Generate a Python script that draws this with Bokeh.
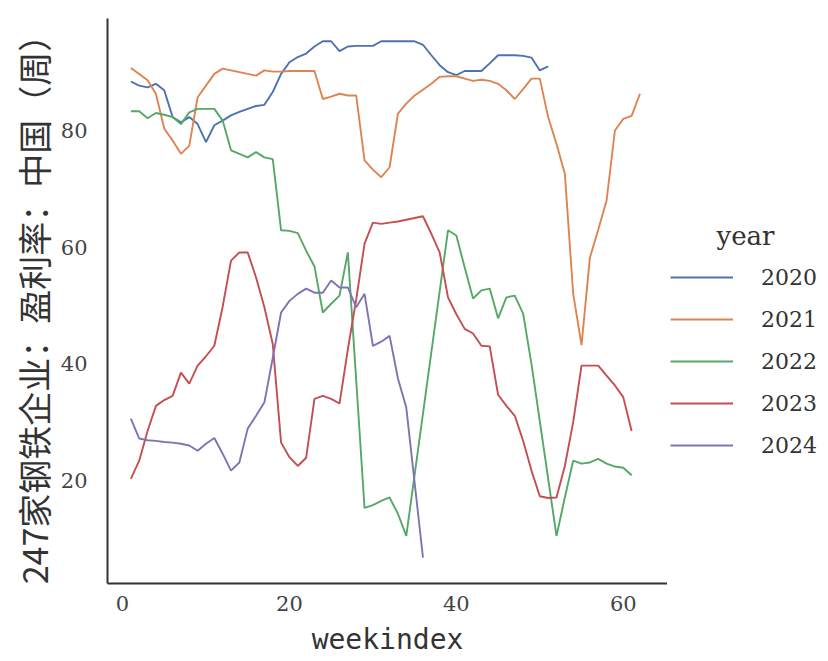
from bokeh.plotting import figure
from bokeh.layouts import row
from bokeh.models import Range1d, FixedTicker, Legend, LegendItem, Label
from bokeh.embed import file_html
from bokeh.resources import INLINE

# ---- data ----
years = ["2020", "2021", "2022", "2023", "2024"]

weeks_2020 = list(range(1, 52))
vals_2020 = [88.4, 87.7, 87.4, 88.0, 86.9, 82.3, 81.4, 82.3, 81.1, 78.0,
             80.9, 81.7, 82.6, 83.2, 83.7, 84.2, 84.4, 86.6, 89.7, 91.7,
             92.6, 93.2, 94.4, 95.3, 95.3, 93.6, 94.4, 94.5, 94.5, 94.5,
             95.3, 95.3, 95.3, 95.3, 95.3, 94.7, 92.9, 91.2, 90.0, 89.5,
             90.2, 90.2, 90.2, 91.5, 92.9, 92.9, 92.9, 92.8, 92.5, 90.3,
             91.0]

weeks_2021 = list(range(1, 63))
vals_2021 = [90.7, 89.7, 88.6, 86.3, 80.3, 78.3, 76.0, 77.4, 85.7, 87.7,
             89.7, 90.6, 90.3, 90.0, 89.7, 89.4, 90.3, 90.1, 90.1, 90.2,
             90.2, 90.2, 90.2, 85.4, 85.8, 86.3, 86.0, 86.0, 74.9, 73.3,
             72.0, 73.7, 82.9, 84.6, 86.0, 87.0, 88.0, 89.2, 89.3, 89.3,
             88.9, 88.5, 88.7, 88.5, 88.0, 86.9, 85.4, 87.1, 88.9, 88.9,
             82.3, 77.7, 72.6, 52.0, 43.2, 58.2, 63.0, 68.0, 80.0, 82.0,
             82.5, 86.3]

weeks_2022 = [1, 2, 3, 4, 5, 6, 7, 8, 9, 10, 11, 12, 13, 14, 15, 16, 17, 18,
              19, 20, 21, 22, 23, 24, 25, 26, 27, 29, 30, 31, 32, 33, 34,
              39, 40, 41, 42, 43, 44, 45, 46, 47, 48, 49, 52, 53, 54, 55,
              56, 57, 58, 59, 60, 61]
vals_2022 = [83.3, 83.3, 82.1, 83.0, 82.7, 82.3, 81.1, 83.1, 83.7, 83.7,
             83.7, 81.7, 76.6, 76.0, 75.4, 76.3, 75.4, 75.1, 62.9, 62.8,
             62.4, 59.4, 56.7, 48.8, 50.3, 51.7, 59.1, 15.3, 15.8, 16.5,
             17.1, 14.3, 10.5, 62.9, 62.0, 56.5, 51.2, 52.6, 52.9, 47.8,
             51.4, 51.7, 48.6, 40.0, 10.5, 17.1, 23.4, 22.9, 23.1, 23.7,
             22.9, 22.4, 22.2, 20.9]

weeks_2023 = list(range(1, 62))
vals_2023 = [20.3, 23.4, 28.5, 32.8, 33.8, 34.5, 38.5, 36.6, 39.7, 41.3,
             43.1, 49.8, 57.7, 59.1, 59.1, 54.8, 49.7, 43.4, 26.5, 24.0,
             22.5, 23.9, 34.0, 34.5, 34.0, 33.2, 42.5, 51.0, 60.6, 64.2,
             64.0, 64.2, 64.4, 64.7, 65.0, 65.3, 62.3, 59.1, 51.4, 48.5,
             46.0, 45.2, 43.1, 43.0, 34.7, 32.8, 31.1, 26.8, 21.7, 17.3,
             17.0, 17.1, 22.5, 30.0, 39.7, 39.7, 39.7, 38.0, 36.3, 34.3,
             28.5]

weeks_2024 = list(range(1, 35)) + [36]
vals_2024 = [30.6, 27.2, 26.9, 26.8, 26.6, 26.5, 26.3, 26.0, 25.1, 26.3,
             27.3, 24.6, 21.7, 23.1, 28.9, 31.1, 33.4, 41.0, 48.8, 50.8,
             52.0, 52.9, 52.2, 52.2, 54.3, 53.1, 53.1, 49.7, 52.0, 43.1,
             43.8, 44.8, 37.5, 32.5, 6.8]

x_ticks = [0, 20, 40, 60]
y_ticks = [20, 40, 60, 80]
colors = ["#4c72b0", "#dd8452", "#55a868", "#c44e52", "#8172b3"]

series = [(weeks_2020, vals_2020), (weeks_2021, vals_2021), (weeks_2022, vals_2022),
          (weeks_2023, vals_2023), (weeks_2024, vals_2024)]

LW = 1.9

p = figure(width=667, height=661, output_backend="svg", toolbar_location=None,
           x_range=Range1d(-1.8, 65.3), y_range=Range1d(2.35, 99.2),
           min_border_left=107, min_border_right=0, min_border_top=18,
           min_border_bottom=78)
p.outline_line_color = None
p.xgrid.visible = False
p.ygrid.visible = False
p.background_fill_color = "white"
p.border_fill_color = "white"

for (wx, wy), c in zip(series, colors):
    p.line(wx, wy, line_color=c, line_width=LW)

axis_color = "#333333"
for ax in (p.xaxis[0], p.yaxis[0]):
    ax.axis_line_color = axis_color
    ax.axis_line_width = 2
    ax.major_tick_out = 0
    ax.major_tick_in = 0
    ax.minor_tick_out = 0
    ax.minor_tick_in = 0
    ax.major_label_text_font = "DejaVu Serif"
    ax.major_label_text_font_size = "21px"
    ax.major_label_text_color = "#444444"
    ax.axis_label_text_font_style = "normal"
    ax.axis_label_text_color = "#333333"

p.xaxis[0].ticker = FixedTicker(ticks=x_ticks)
p.yaxis[0].ticker = FixedTicker(ticks=y_ticks)
p.xaxis[0].axis_label = "weekindex"
p.xaxis[0].axis_label_text_font = "DejaVu Sans Mono"
p.xaxis[0].axis_label_text_font_size = "28px"
p.xaxis[0].major_label_standoff = 12
p.xaxis[0].axis_label_standoff = 9

p.yaxis[0].axis_label = "247家钢铁企业：盈利率：中国（周）"
p.yaxis[0].axis_label_text_font = "Noto Sans CJK SC"
p.yaxis[0].axis_label_text_font_size = "34px"
p.yaxis[0].major_label_standoff = 20
p.yaxis[0].axis_label_standoff = 0

# ---- legend panel (same series, kept out of view; only the legend shows) ----
q = figure(width=161, height=661, output_backend="svg", toolbar_location=None,
           x_range=Range1d(-200, -199), y_range=Range1d(-200, -199),
           min_border_left=0, min_border_right=0, min_border_top=0, min_border_bottom=0)
q.outline_line_color = None
q.axis.visible = False
q.grid.visible = False
q.background_fill_color = "white"
q.border_fill_color = "white"

items = []
for y, (wx, wy), c in zip(years, series, colors):
    r = q.line(wx, wy, line_color=c, line_width=LW)
    items.append(LegendItem(label=y, renderers=[r]))

legend = Legend(items=items, location=(3, 117), orientation="vertical",
                glyph_width=63, glyph_height=42, label_height=42, spacing=0,
                label_standoff=28, padding=0, margin=0,
                border_line_color=None, background_fill_alpha=0,
                label_text_font="DejaVu Serif", label_text_font_size="22px",
                label_text_color="#333333")
q.add_layout(legend, "center")

title = Label(x=78, y=583 - 235, x_units="screen", y_units="screen", text="year",
              text_font="DejaVu Serif", text_font_size="26px", text_color="#333333",
              text_align="center", text_baseline="middle")
q.add_layout(title)

layout = row(p, q, spacing=0)
open("out.html", "w").write(file_html(layout, INLINE))
